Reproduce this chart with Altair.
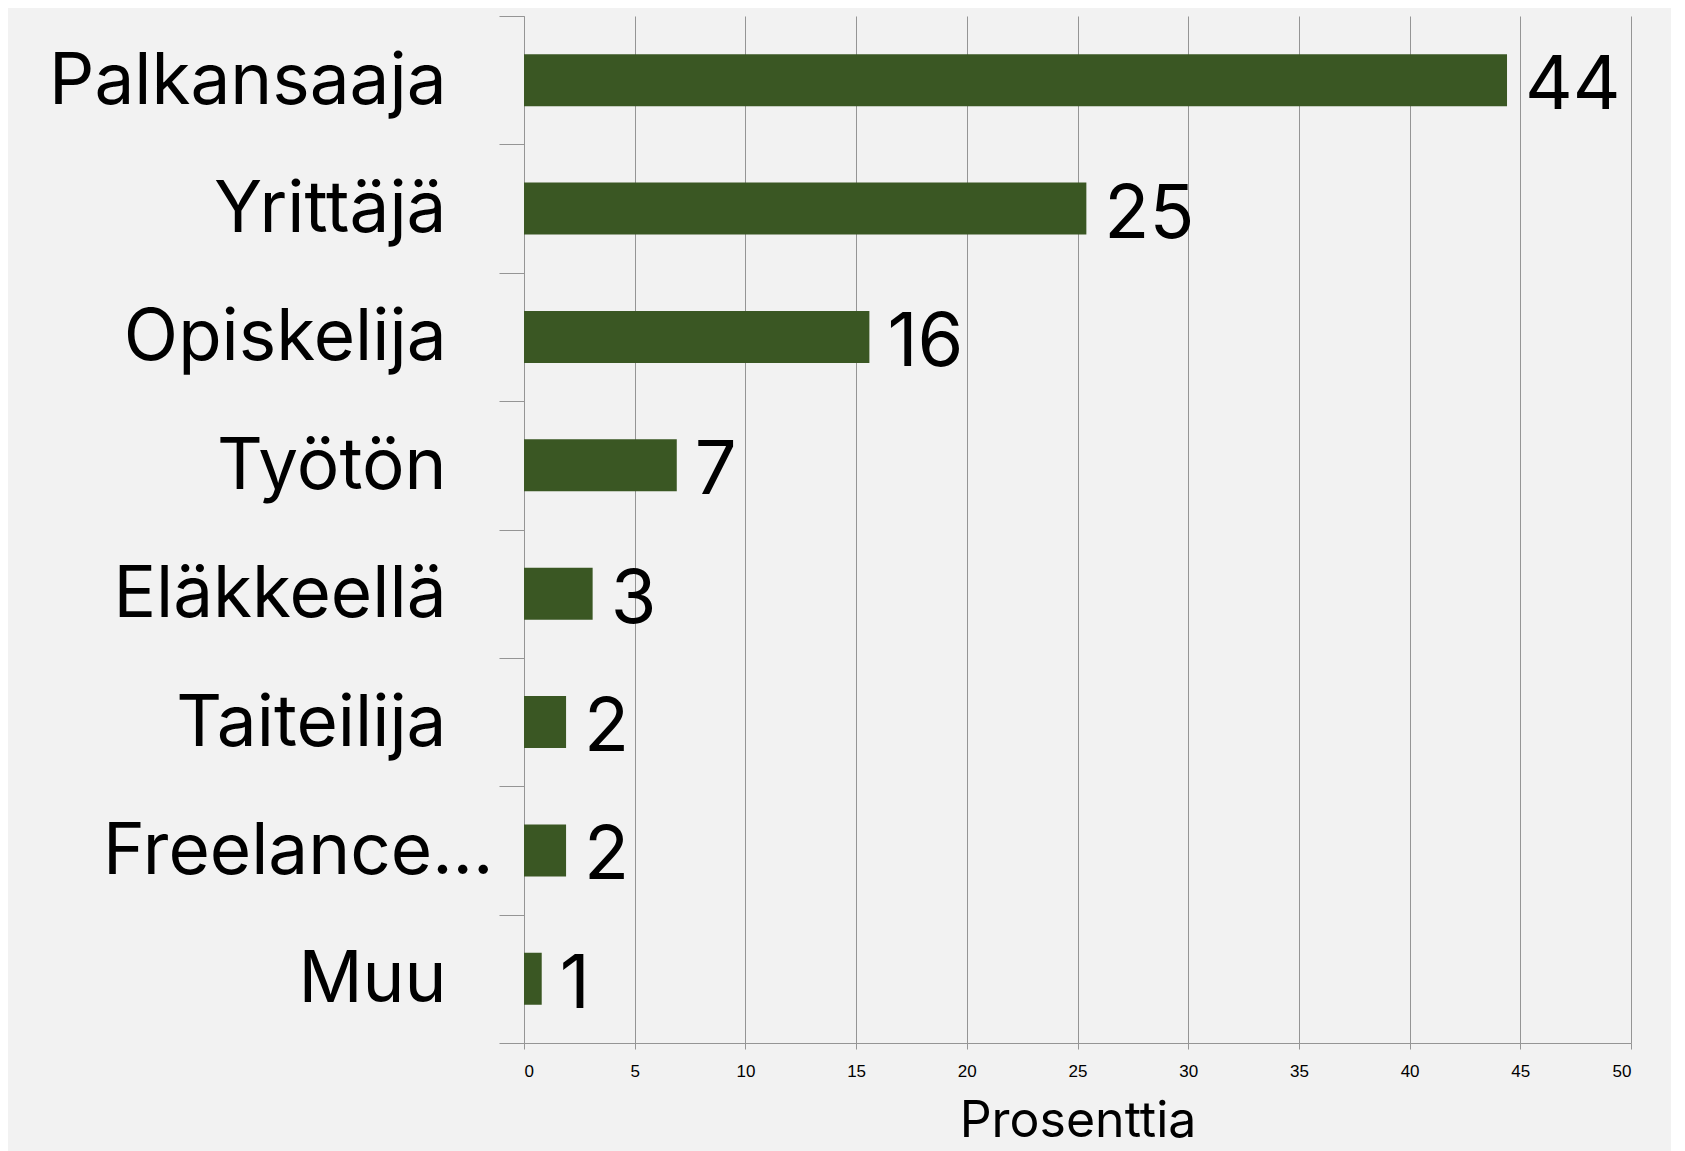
import altair as alt
import pandas as pd

categories = ["Palkansaaja", "Yrittäjä", "Opiskelija", "Työtön", "Eläkkeellä",
              "Taiteilija", "Freelance...", "Muu"]
values = [44.4, 25.4, 15.6, 6.9, 3.1, 1.9, 1.9, 0.8]
labels = ["44", "25", "16", "7", "3", "2", "2", "1"]
xticks = [0, 5, 10, 15, 20, 25, 30, 35, 40, 45, 50]

df = pd.DataFrame({"cat": categories, "val": values, "lab": labels})

FONT = "Inter"
GRAY = "#959595"

y = alt.Y(
    "cat:N", sort=categories, title=None,
    scale=alt.Scale(paddingInner=0, paddingOuter=0),
    axis=alt.Axis(
        tickBand="extent", tickSize=25, tickColor=GRAY, domainColor=GRAY,
        labelFont=FONT, labelFontSize=71, labelColor="black",
        labelBaseline="alphabetic", labelOffset=23, labelLimit=1000,
        labelPadding={"condition": {"test": "datum.value == 'Freelance...'", "value": 6}, "value": 53},
    ),
)
x = alt.X(
    "val:Q", title="Prosenttia",
    scale=alt.Scale(domain=[0, 50], nice=False),
    axis=alt.Axis(
        values=xticks, grid=True, gridColor=GRAY, tickColor=GRAY, domainColor=GRAY,
        tickSize=6, labelFont="Liberation Sans Narrow, Liberation Sans", labelFontSize=17,
        labelColor="black", labelPadding=14,
        titleFont=FONT, titleFontSize=50, titleFontWeight="normal", titleColor="black",
        titlePadding=17,
    ),
)

bars = alt.Chart(df).mark_bar(color="#3a5723", height={"band": 0.405}).encode(x=x, y=y)
text = alt.Chart(df).mark_text(
    align="left", baseline="alphabetic", dx=18, dy=29, font=FONT, fontSize=74, color="black"
).encode(x="val:Q", y=alt.Y("cat:N", sort=categories), text="lab:N")

chart = alt.layer(bars, text).properties(
    width=1107, height=1027,
    padding={"left": 516, "top": 8, "right": 40, "bottom": 130},
    autosize="none",
    background="#f2f2f2",
).configure_view(stroke=None)

chart.save("out.html", embed_options={"renderer": "svg", "actions": False})
